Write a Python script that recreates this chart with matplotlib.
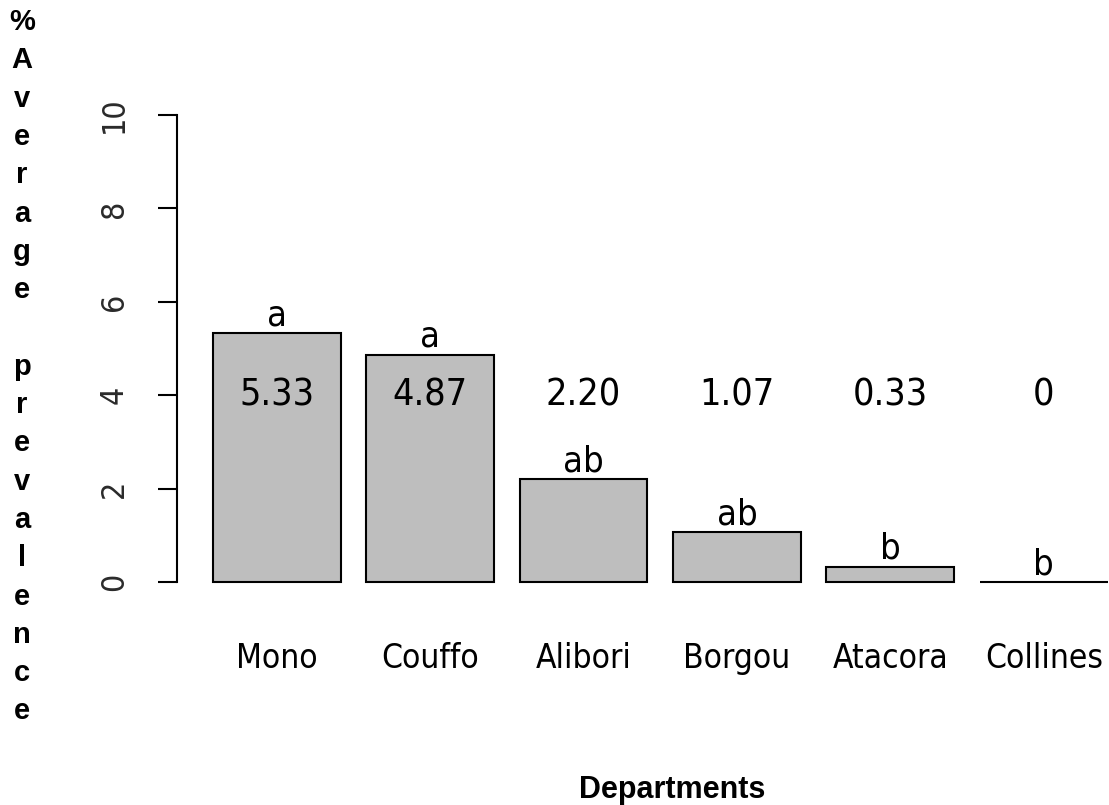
import numpy as np
import matplotlib.pyplot as plt
from matplotlib import font_manager as fm

# Average prevalence per department, with significance letters
departments = ['Mono', 'Couffo', 'Alibori', 'Borgou', 'Atacora', 'Collines']
prevalence = [5.33, 4.87, 2.20, 1.07, 0.33, 0]
value_labels = ['5.33', '4.87', '2.20', '1.07', '0.33', '0']
groups = ['a', 'a', 'ab', 'ab', 'b', 'b']
yticks = [0, 2, 4, 6, 8, 10]


def narrow_font(size):
    # prefer an Arial Narrow look-alike, else a condensed DejaVu face
    cands = [f for f in fm.fontManager.ttflist
             if f.style == 'normal' and f.weight in (400, 'normal', 'regular', 'book')]
    for key in ('liberation sans narrow', 'dejavu sans condensed'):
        for f in cands:
            if key in f.name.lower() or key.replace(' ', '') in f.fname.lower().replace('-', '').replace('_', ''):
                return fm.FontProperties(fname=f.fname, size=size)
    for f in cands:
        if f.name == 'DejaVu Sans' and 'condensed' in str(f.stretch).lower():
            return fm.FontProperties(fname=f.fname, size=size)
    return fm.FontProperties(family='DejaVu Sans', stretch='condensed', size=size)


def bold_font(size):
    return fm.FontProperties(family=['Liberation Sans', 'DejaVu Sans'],
                             weight='bold', stretch='normal', size=size)


W, H = 1109, 805
fig = plt.figure(figsize=(W / 100, H / 100), dpi=100)
ax = fig.add_axes([177 / W, 1 - 600.7 / H, (W - 177) / W, (600.7 - 96.3) / H])

# barplot-style positions: width 1, space 0.2
x = 0.7 + 1.2 * np.arange(len(departments))
ax.bar(x, prevalence, width=1.0, color='#bebebe', edgecolor='black', linewidth=1.5)
ax.set_xlim(-0.08, 7.21)
ax.set_ylim(-0.4, 10.4)

for xi, v, lab, g in zip(x, prevalence, value_labels, groups):
    ax.text(xi, 4, lab, ha='center', va='center', fontproperties=narrow_font(27))
    ax.text(xi, v + 0.17, g, ha='center', va='baseline', fontproperties=narrow_font(26))

for side in ['top', 'right', 'bottom']:
    ax.spines[side].set_visible(False)
ax.spines['left'].set_bounds(0, 10)
ax.spines['left'].set_linewidth(1.5)

ax.set_yticks(yticks)
ax.set_yticklabels([str(t) for t in yticks], rotation=90, va='center',
                   fontproperties=narrow_font(23), color='#2a2a2a')
ax.tick_params(axis='y', length=14, width=1.5, pad=20)

ax.set_xticks(x)
ax.set_xticklabels(departments, fontproperties=narrow_font(24))
ax.tick_params(axis='x', length=0, pad=30)

# axis titles
fig.text(672 / W, 1 - 798 / H, 'Departments', ha='center', va='baseline',
         fontproperties=bold_font(22))
ylab = list('%Average') + [''] + list('prevalence')
for i, ch in enumerate(ylab):
    fig.text(22 / W, 1 - (22 + 38.3 * i) / H, ch, ha='center', va='center',
             fontproperties=bold_font(21))

fig.savefig('out.png', dpi=100)
